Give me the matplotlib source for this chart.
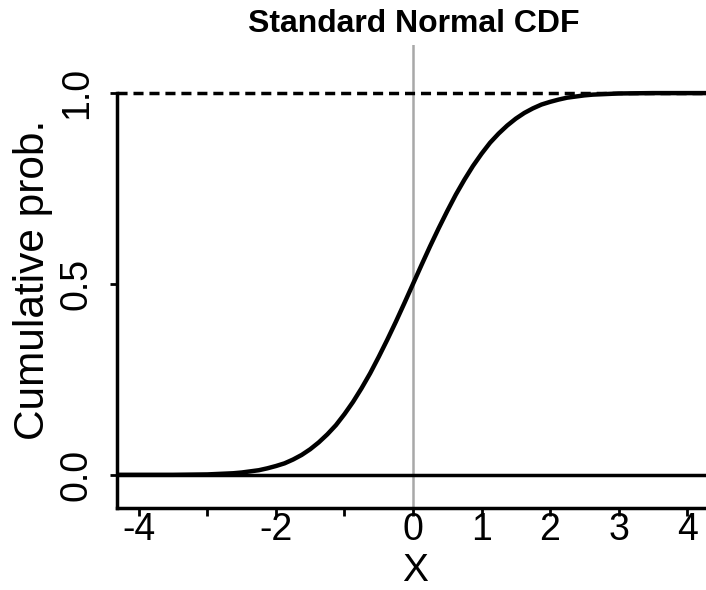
import matplotlib
matplotlib.use("Agg")
import matplotlib.pyplot as plt

plt.rcParams['font.family'] = ['Liberation Sans', 'DejaVu Sans']

# values
x_vals = [-4.32, -4.0, -3.5, -3.0, -2.875, -2.75, -2.625, -2.5, -2.375, -2.25, -2.125, -2.0,
          -1.875, -1.75, -1.625, -1.5, -1.375, -1.25, -1.125, -1.0, -0.875, -0.75, -0.625,
          -0.5, -0.375, -0.25, -0.125, 0.0, 0.125, 0.25, 0.375, 0.5, 0.625, 0.75, 0.875,
          1.0, 1.125, 1.25, 1.375, 1.5, 1.625, 1.75, 1.875, 2.0, 2.125, 2.25, 2.375, 2.5,
          2.625, 2.75, 2.875, 3.0, 3.5, 4.0, 4.32]
cdf_vals = [0.000, 0.000, 0.000, 0.001, 0.002, 0.003, 0.004, 0.006, 0.009, 0.012, 0.017, 0.023,
            0.030, 0.040, 0.052, 0.067, 0.085, 0.106, 0.130, 0.159, 0.191, 0.227, 0.266,
            0.309, 0.354, 0.401, 0.450, 0.500, 0.550, 0.599, 0.646, 0.691, 0.734, 0.773, 0.809,
            0.841, 0.870, 0.894, 0.915, 0.933, 0.948, 0.960, 0.970, 0.977, 0.983, 0.988, 0.991, 0.994,
            0.996, 0.997, 0.998, 0.999, 1.000, 1.000, 1.000]

x_ticks = [-4, -3, -2, -1, 0, 1, 2, 3, 4]
x_tick_labels = ['-4', '', '-2', '', '0', '1', '2', '3', '4']
y_ticks = [0.0, 0.5, 1.0]
y_tick_labels = ['0.0', '0.5', '1.0']

fig = plt.figure(figsize=(7.06, 5.90), dpi=100)
ax = fig.add_axes([117 / 706, 82 / 590, 592 / 706, 463 / 590])

ax.set_xlim(-4.32, 4.32)
ax.set_ylim(-0.087, 1.126)

ax.axvline(0, color='#a8a8a8', lw=1.8, zorder=1)
ax.axhline(0, color='black', lw=2.5, zorder=2)
ax.axhline(1, color='black', lw=2.5, dashes=(2.9, 1.7), zorder=2)
ax.plot(x_vals, cdf_vals, color='black', lw=3.2, zorder=3)

for side in ['top', 'right']:
    ax.spines[side].set_visible(False)
for side in ['left', 'bottom']:
    ax.spines[side].set_linewidth(2.5)
ax.spines['left'].set_bounds(-0.087, 1.0)

ax.set_xticks(x_ticks)
ax.set_xticklabels(x_tick_labels, fontsize=27)
ax.set_yticks(y_ticks)
ax.set_yticklabels(y_tick_labels, fontsize=27, rotation=90, va='center')
ax.tick_params(axis='x', length=6, width=2, pad=-3)
ax.tick_params(axis='y', length=5, width=2, pad=11)

fig.text(414 / 706, 1 - 24 / 590, 'Standard Normal CDF', fontsize=23, fontweight='bold',
         ha='center', va='center')
fig.text(33 / 706, 1 - 280 / 590, 'Cumulative prob.', fontsize=30.5, rotation=90,
         ha='center', va='center')
fig.text(415 / 706, 1 - 589 / 590, 'X', fontsize=28, ha='center', va='bottom')

fig.savefig('out.png', dpi=100)
